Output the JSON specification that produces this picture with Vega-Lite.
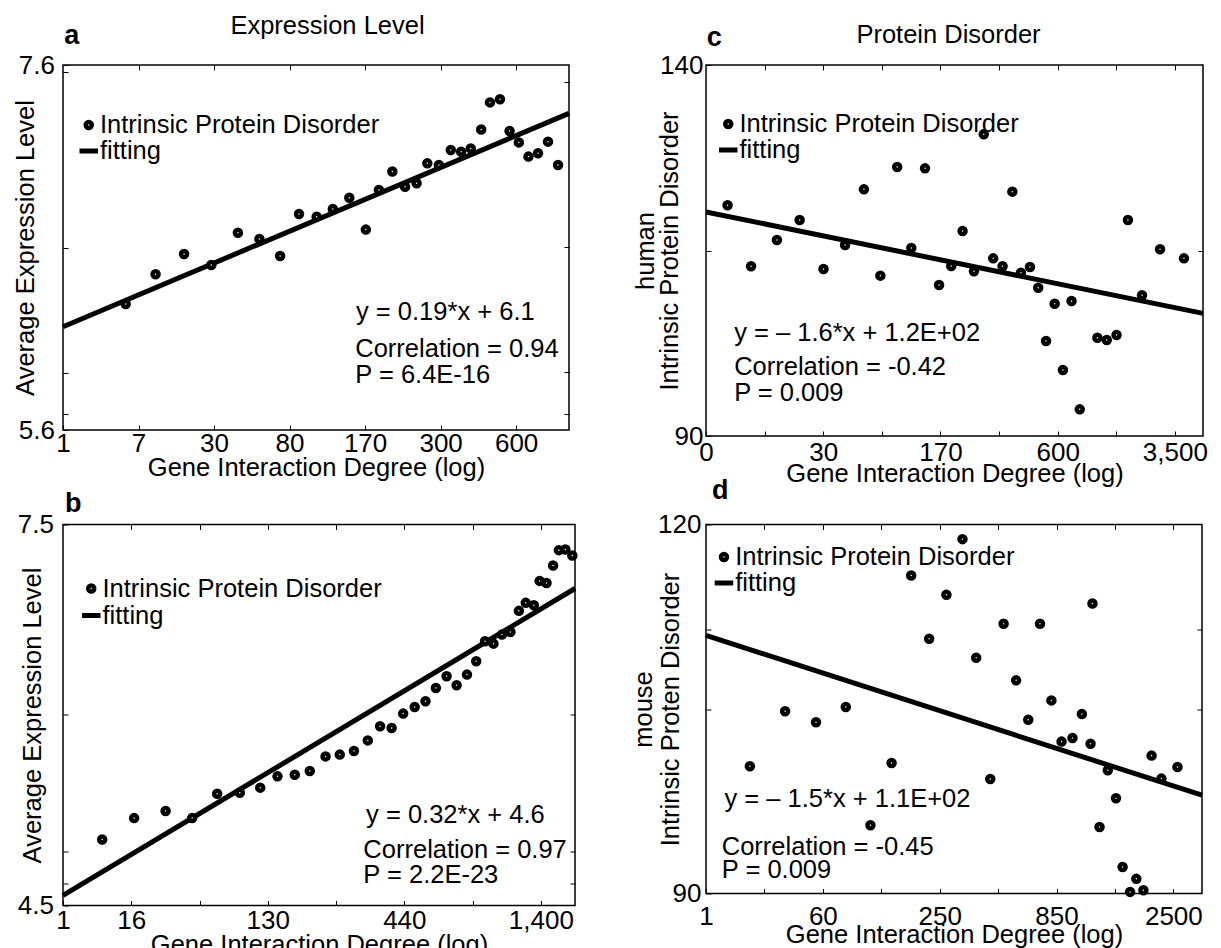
{
"$schema": "https://vega.github.io/schema/vega-lite/v6.json",
"background": "white",
"padding": {"left": 12, "top": 13, "right": 0, "bottom": 0},
"config": {
  "font": "Liberation Sans",
  "view": {"stroke": "black", "strokeWidth": 1.5},
  "axis": {"domain": false, "grid": false, "tickColor": "black", "tickSize": -5, "tickWidth": 1, "labelColor": "black", "titleColor": "black", "labelFontSize": 26, "titleFontSize": 25.5, "titleFontWeight": "normal", "labelFlush": false, "labelOverlap": false, "labelFont": "Liberation Sans", "titleFont": "Liberation Sans"},
  "title": {"color": "black", "font": "Liberation Sans"},
  "text": {"font": "Liberation Sans"},
  "legend": {"title": null, "labelFontSize": 25.5, "labelColor": "black", "labelFont": "Liberation Sans", "labelOffset": -1.5, "padding": 0, "labelLimit": 500, "rowPadding": 0}
},
"columns": 2,
"align": "each",
"bounds": "flush",
"spacing": {"row": 88.5, "column": 131},
"resolve": {"scale": {"shape": "independent", "size": "independent", "strokeWidth": "independent"}, "legend": {"shape": "independent", "size": "independent", "strokeWidth": "independent"}},
"concat": [
 {
  "width": 506, "height": 365,
  "layer": [
   {
    "data": {"values": [{"x": 0, "y": 6.166}, {"x": 6.7, "y": 7.335}]},
    "mark": {"type": "line", "color": "black", "strokeWidth": 5},
    "encoding": {
     "x": {"field": "x", "type": "quantitative", "scale": {"domain": [0, 6.7], "nice": false, "zero": false},
       "axis": {"values": [0, 1, 2, 3, 4, 5, 6], "labelExpr": "['1','7','30','80','170','300','600'][datum.value]", "title": "Gene Interaction Degree (log)", "labelPadding": 5, "minExtent": 24, "maxExtent": 24, "titlePadding": 1.5}},
     "y": {"field": "y", "type": "quantitative", "scale": {"domain": [5.6, 7.6], "nice": false, "zero": false},
       "axis": {"values": [5.6, 5.69, 5.91, 6.6, 7.563, 7.6], "labelExpr": "datum.value == 7.6 ? '7.6' : datum.value == 5.6 ? '5.6' : ''", "title": "Average Expression Level", "labelPadding": 13.5, "minExtent": 20, "maxExtent": 20, "titlePadding": 5}}
    }
   },
   {
    "data": {"values": [
     {"x": 0.83, "y": 6.29}, {"x": 1.226, "y": 6.453}, {"x": 1.603, "y": 6.564}, {"x": 1.964, "y": 6.504}, {"x": 2.316, "y": 6.681},
     {"x": 2.601, "y": 6.647}, {"x": 2.875, "y": 6.553}, {"x": 3.125, "y": 6.784}, {"x": 3.359, "y": 6.769}, {"x": 3.573, "y": 6.811},
     {"x": 3.791, "y": 6.873}, {"x": 4.01, "y": 6.698}, {"x": 4.183, "y": 6.915}, {"x": 4.361, "y": 7.016}, {"x": 4.529, "y": 6.933},
     {"x": 4.682, "y": 6.952}, {"x": 4.824, "y": 7.061}, {"x": 4.977, "y": 7.052}, {"x": 5.135, "y": 7.134}, {"x": 5.272, "y": 7.125},
     {"x": 5.399, "y": 7.143}, {"x": 5.537, "y": 7.247}, {"x": 5.654, "y": 7.395}, {"x": 5.786, "y": 7.412}, {"x": 5.913, "y": 7.238},
     {"x": 6.036, "y": 7.176}, {"x": 6.163, "y": 7.098}, {"x": 6.29, "y": 7.116}, {"x": 6.422, "y": 7.18}, {"x": 6.555, "y": 7.052}
    ]},
    "transform": [{"calculate": "'Intrinsic Protein Disorder'", "as": "series"}],
    "mark": {"type": "point", "filled": true, "fill": "white", "stroke": "black", "opacity": 1},
    "encoding": {
     "x": {"field": "x", "type": "quantitative", "axis": {"orient": "top", "values": [1, 2, 3, 4, 5, 6], "labels": false, "title": "Expression Level", "titleX": 264, "minExtent": 0, "maxExtent": 0, "titlePadding": 26.2}},
     "y": {"field": "y", "type": "quantitative", "axis": {"orient": "right", "values": [5.688, 5.92, 6.601, 7.509], "labels": false, "title": null}},
     "shape": {"field": "series", "type": "nominal", "scale": {"domain": ["Intrinsic Protein Disorder", "fitting"], "range": ["circle", "stroke"]},
       "legend": {"orient": "none", "legendX": 13, "legendY": 47.5, "clipHeight": 25}},
     "size": {"field": "series", "type": "nominal", "scale": {"domain": ["Intrinsic Protein Disorder", "fitting"], "range": [36, 342]},
       "legend": {"orient": "none", "legendX": 13, "legendY": 47.5, "clipHeight": 25}},
     "strokeWidth": {"field": "series", "type": "nominal", "scale": {"domain": ["Intrinsic Protein Disorder", "fitting"], "range": [4.5, 5]},
       "legend": {"orient": "none", "legendX": 13, "legendY": 47.5, "clipHeight": 25}}
    }
   },
   {"data": {"values": [{"label": "a"}]}, "mark": {"type": "text", "align": "left", "baseline": "alphabetic", "fontSize": 27, "fontWeight": "bold", "color": "black"},
    "encoding": {"x": {"datum": 0.016, "type": "quantitative", "axis": null}, "y": {"datum": 7.717, "type": "quantitative", "axis": null}, "text": {"field": "label"}}},
   {"data": {"values": [{"label": "y = 0.19*x + 6.1"}]}, "mark": {"type": "text", "align": "left", "baseline": "middle", "fontSize": 25.5, "color": "black"},
    "encoding": {"x": {"datum": 3.88, "type": "quantitative", "axis": null}, "y": {"datum": 6.248, "type": "quantitative", "axis": null}, "text": {"field": "label"}}},
   {"data": {"values": [{"label": "Correlation = 0.94"}]}, "mark": {"type": "text", "align": "left", "baseline": "middle", "fontSize": 25.5, "color": "black"},
    "encoding": {"x": {"datum": 3.87, "type": "quantitative", "axis": null}, "y": {"datum": 6.045, "type": "quantitative", "axis": null}, "text": {"field": "label"}}},
   {"data": {"values": [{"label": "P = 6.4E-16"}]}, "mark": {"type": "text", "align": "left", "baseline": "middle", "fontSize": 25.5, "color": "black"},
    "encoding": {"x": {"datum": 3.87, "type": "quantitative", "axis": null}, "y": {"datum": 5.903, "type": "quantitative", "axis": null}, "text": {"field": "label"}}}
  ],
  "resolve": {"axis": {"x": "independent", "y": "independent"}}
 },
 {
  "width": 497, "height": 371,
  "layer": [
   {
    "data": {"values": [{"x": 0, "y": 120.19}, {"x": 8.48, "y": 106.53}]},
    "mark": {"type": "line", "color": "black", "strokeWidth": 5},
    "encoding": {
     "x": {"field": "x", "type": "quantitative", "scale": {"domain": [0, 8.48], "nice": false, "zero": false},
       "axis": {"values": [0, 1, 2, 3, 4, 5, 6, 7, 8], "labelExpr": "['0','','30','','170','','600','','3,500'][datum.value]", "title": "Gene Interaction Degree (log)", "labelPadding": 8.5, "minExtent": 24, "maxExtent": 24, "titlePadding": 1.5}},
     "y": {"field": "y", "type": "quantitative", "scale": {"domain": [90, 140], "nice": false, "zero": false},
       "axis": {"values": [90, 115, 140], "labelExpr": "datum.value == 140 ? '140' : datum.value == 90 ? '90' : ''", "title": ["human", "Intrinsic Protein Disorder"], "titleLineHeight": 24, "labelPadding": 8, "minExtent": 16, "maxExtent": 16, "titlePadding": 7.3}}
    }
   },
   {
    "data": {"values": [
     {"x": 0.368, "y": 121.09}, {"x": 0.769, "y": 112.87}, {"x": 1.21, "y": 116.42}, {"x": 1.598, "y": 119.11}, {"x": 2.005, "y": 112.51},
     {"x": 2.373, "y": 115.74}, {"x": 2.694, "y": 123.24}, {"x": 2.975, "y": 111.61}, {"x": 3.262, "y": 126.25}, {"x": 3.503, "y": 115.34},
     {"x": 3.737, "y": 126.07}, {"x": 3.977, "y": 110.35}, {"x": 4.184, "y": 112.91}, {"x": 4.378, "y": 117.63}, {"x": 4.572, "y": 112.19},
     {"x": 4.739, "y": 130.66}, {"x": 4.9, "y": 113.94}, {"x": 5.06, "y": 112.87}, {"x": 5.227, "y": 122.93}, {"x": 5.374, "y": 112.01},
     {"x": 5.528, "y": 112.78}, {"x": 5.668, "y": 109.99}, {"x": 5.802, "y": 102.8}, {"x": 5.949, "y": 107.83}, {"x": 6.09, "y": 98.89},
     {"x": 6.237, "y": 108.19}, {"x": 6.377, "y": 93.59}, {"x": 6.678, "y": 103.25}, {"x": 6.838, "y": 102.94}, {"x": 7.005, "y": 103.61},
     {"x": 7.199, "y": 119.11}, {"x": 7.44, "y": 108.96}, {"x": 7.747, "y": 115.16}, {"x": 8.155, "y": 113.94}
    ]},
    "transform": [{"calculate": "'Intrinsic Protein Disorder'", "as": "series"}],
    "mark": {"type": "point", "filled": true, "fill": "white", "stroke": "black", "opacity": 1},
    "encoding": {
     "x": {"field": "x", "type": "quantitative", "axis": {"orient": "top", "values": [1, 2, 3, 4, 5, 6, 7, 8], "labels": false, "title": "Protein Disorder", "titleX": 242, "minExtent": 0, "maxExtent": 0, "titlePadding": 17.9}},
     "y": {"field": "y", "type": "quantitative", "axis": {"orient": "right", "values": [115], "labels": false, "title": null}},
     "shape": {"field": "series", "type": "nominal", "scale": {"domain": ["Intrinsic Protein Disorder", "fitting"], "range": ["circle", "stroke"]},
       "legend": {"orient": "none", "legendX": 9.5, "legendY": 47, "clipHeight": 24}},
     "size": {"field": "series", "type": "nominal", "scale": {"domain": ["Intrinsic Protein Disorder", "fitting"], "range": [36, 342]},
       "legend": {"orient": "none", "legendX": 9.5, "legendY": 47, "clipHeight": 24}},
     "strokeWidth": {"field": "series", "type": "nominal", "scale": {"domain": ["Intrinsic Protein Disorder", "fitting"], "range": [4.5, 5]},
       "legend": {"orient": "none", "legendX": 9.5, "legendY": 47, "clipHeight": 24}}
    }
   },
   {"data": {"values": [{"label": "c"}]}, "mark": {"type": "text", "align": "left", "baseline": "alphabetic", "fontSize": 27, "fontWeight": "bold", "color": "black"},
    "encoding": {"x": {"datum": 0.014, "type": "quantitative", "axis": null}, "y": {"datum": 142.56, "type": "quantitative", "axis": null}, "text": {"field": "label"}}},
   {"data": {"values": [{"label": "y = – 1.6*x + 1.2E+02"}]}, "mark": {"type": "text", "align": "left", "baseline": "middle", "fontSize": 25.5, "color": "black"},
    "encoding": {"x": {"datum": 0.48, "type": "quantitative", "axis": null}, "y": {"datum": 103.92, "type": "quantitative", "axis": null}, "text": {"field": "label"}}},
   {"data": {"values": [{"label": "Correlation = -0.42"}]}, "mark": {"type": "text", "align": "left", "baseline": "middle", "fontSize": 25.5, "color": "black"},
    "encoding": {"x": {"datum": 0.48, "type": "quantitative", "axis": null}, "y": {"datum": 99.3, "type": "quantitative", "axis": null}, "text": {"field": "label"}}},
   {"data": {"values": [{"label": "P = 0.009"}]}, "mark": {"type": "text", "align": "left", "baseline": "middle", "fontSize": 25.5, "color": "black"},
    "encoding": {"x": {"datum": 0.48, "type": "quantitative", "axis": null}, "y": {"datum": 95.84, "type": "quantitative", "axis": null}, "text": {"field": "label"}}}
  ],
  "resolve": {"axis": {"x": "independent", "y": "independent"}}
 },
 {
  "width": 512, "height": 381,
  "layer": [
   {
    "data": {"values": [{"x": 0, "y": 4.579}, {"x": 7.5, "y": 6.996}]},
    "mark": {"type": "line", "color": "black", "strokeWidth": 5},
    "encoding": {
     "x": {"field": "x", "type": "quantitative", "scale": {"domain": [0, 7.5], "nice": false, "zero": false},
       "axis": {"values": [0, 1, 2, 3, 4, 5, 6, 7], "labelExpr": "['1','16','','130','','440','','1,400'][datum.value]", "title": "Gene Interaction Degree (log)", "labelPadding": 6.8, "minExtent": 24, "maxExtent": 24, "titlePadding": 3}},
     "y": {"field": "y", "type": "quantitative", "scale": {"domain": [4.5, 7.5], "nice": false, "zero": false},
       "axis": {"values": [4.5, 4.671, 4.928, 6.003, 7.5], "labelExpr": "datum.value == 7.5 ? '7.5' : datum.value == 4.5 ? '4.5' : ''", "title": "Average Expression Level", "labelPadding": 14.5, "minExtent": 10, "maxExtent": 10, "titlePadding": 7.8}}
    }
   },
   {
    "data": {"values": [
     {"x": 0.574, "y": 5.02}, {"x": 1.042, "y": 5.188}, {"x": 1.503, "y": 5.244}, {"x": 1.892, "y": 5.188}, {"x": 2.258, "y": 5.38},
     {"x": 2.59, "y": 5.388}, {"x": 2.889, "y": 5.428}, {"x": 3.142, "y": 5.517}, {"x": 3.395, "y": 5.53}, {"x": 3.615, "y": 5.559},
     {"x": 3.846, "y": 5.674}, {"x": 4.054, "y": 5.688}, {"x": 4.262, "y": 5.716}, {"x": 4.465, "y": 5.8}, {"x": 4.645, "y": 5.911},
     {"x": 4.814, "y": 5.898}, {"x": 4.983, "y": 6.011}, {"x": 5.152, "y": 6.063}, {"x": 5.31, "y": 6.108}, {"x": 5.462, "y": 6.213},
     {"x": 5.619, "y": 6.305}, {"x": 5.766, "y": 6.234}, {"x": 5.918, "y": 6.318}, {"x": 6.053, "y": 6.423}, {"x": 6.182, "y": 6.581},
     {"x": 6.306, "y": 6.562}, {"x": 6.43, "y": 6.633}, {"x": 6.554, "y": 6.654}, {"x": 6.678, "y": 6.82}, {"x": 6.779, "y": 6.883},
     {"x": 6.897, "y": 6.864}, {"x": 6.982, "y": 7.056}, {"x": 7.083, "y": 7.04}, {"x": 7.179, "y": 7.177}, {"x": 7.264, "y": 7.298},
     {"x": 7.359, "y": 7.303}, {"x": 7.461, "y": 7.256}
    ]},
    "transform": [{"calculate": "'Intrinsic Protein Disorder'", "as": "series"}],
    "mark": {"type": "point", "filled": true, "fill": "white", "stroke": "black", "opacity": 1},
    "encoding": {
     "x": {"field": "x", "type": "quantitative", "axis": {"orient": "top", "values": [1, 2, 3, 4, 5, 6, 7], "labels": false, "title": null}},
     "y": {"field": "y", "type": "quantitative", "axis": {"orient": "right", "values": [4.671, 4.928, 6.003], "labels": false, "title": null}},
     "shape": {"field": "series", "type": "nominal", "scale": {"domain": ["Intrinsic Protein Disorder", "fitting"], "range": ["circle", "stroke"]},
       "legend": {"orient": "none", "legendX": 15.5, "legendY": 51, "clipHeight": 26}},
     "size": {"field": "series", "type": "nominal", "scale": {"domain": ["Intrinsic Protein Disorder", "fitting"], "range": [36, 342]},
       "legend": {"orient": "none", "legendX": 15.5, "legendY": 51, "clipHeight": 26}},
     "strokeWidth": {"field": "series", "type": "nominal", "scale": {"domain": ["Intrinsic Protein Disorder", "fitting"], "range": [4.5, 5]},
       "legend": {"orient": "none", "legendX": 15.5, "legendY": 51, "clipHeight": 26}}
    }
   },
   {"data": {"values": [{"label": "b"}]}, "mark": {"type": "text", "align": "left", "baseline": "alphabetic", "fontSize": 27, "fontWeight": "bold", "color": "black"},
    "encoding": {"x": {"datum": 0.029, "type": "quantitative", "axis": null}, "y": {"datum": 7.6, "type": "quantitative", "axis": null}, "text": {"field": "label"}}},
   {"data": {"values": [{"label": "y = 0.32*x + 4.6"}]}, "mark": {"type": "text", "align": "left", "baseline": "middle", "fontSize": 25.5, "color": "black"},
    "encoding": {"x": {"datum": 4.44, "type": "quantitative", "axis": null}, "y": {"datum": 5.212, "type": "quantitative", "axis": null}, "text": {"field": "label"}}},
   {"data": {"values": [{"label": "Correlation = 0.97"}]}, "mark": {"type": "text", "align": "left", "baseline": "middle", "fontSize": 25.5, "color": "black"},
    "encoding": {"x": {"datum": 4.4, "type": "quantitative", "axis": null}, "y": {"datum": 4.939, "type": "quantitative", "axis": null}, "text": {"field": "label"}}},
   {"data": {"values": [{"label": "P = 2.2E-23"}]}, "mark": {"type": "text", "align": "left", "baseline": "middle", "fontSize": 25.5, "color": "black"},
    "encoding": {"x": {"datum": 4.4, "type": "quantitative", "axis": null}, "y": {"datum": 4.742, "type": "quantitative", "axis": null}, "text": {"field": "label"}}}
  ],
  "resolve": {"axis": {"x": "independent", "y": "independent"}}
 },
 {
  "width": 496, "height": 369,
  "layer": [
   {
    "data": {"values": [{"x": 0, "y": 110.98}, {"x": 8.49, "y": 97.99}]},
    "mark": {"type": "line", "color": "black", "strokeWidth": 5},
    "encoding": {
     "x": {"field": "x", "type": "quantitative", "scale": {"domain": [0, 8.49], "nice": false, "zero": false},
       "axis": {"values": [0, 1, 2, 3, 4, 5, 6, 7, 8], "labelExpr": "['1','','60','','250','','850','','2500'][datum.value]", "title": "Gene Interaction Degree (log)", "labelPadding": 15, "minExtent": 22, "maxExtent": 22, "titlePadding": 6.5}},
     "y": {"field": "y", "type": "quantitative", "scale": {"domain": [90, 120], "nice": false, "zero": false},
       "axis": {"values": [90, 105, 111.44, 120], "labelExpr": "datum.value == 120 ? '120' : datum.value == 90 ? '90' : ''", "title": ["mouse", "Intrinsic Proten Disorder"], "titleLineHeight": 27, "labelPadding": 10, "minExtent": 14, "maxExtent": 14, "titlePadding": 9}}
    }
   },
   {
    "data": {"values": [
     {"x": 0.751, "y": 100.34}, {"x": 1.354, "y": 104.81}, {"x": 1.883, "y": 103.92}, {"x": 2.393, "y": 105.16}, {"x": 2.815, "y": 95.55},
     {"x": 3.177, "y": 100.61}, {"x": 3.512, "y": 115.86}, {"x": 3.82, "y": 110.71}, {"x": 4.115, "y": 114.29}, {"x": 4.39, "y": 118.81},
     {"x": 4.625, "y": 109.17}, {"x": 4.866, "y": 99.31}, {"x": 5.094, "y": 111.93}, {"x": 5.308, "y": 107.33}, {"x": 5.516, "y": 104.13},
     {"x": 5.717, "y": 111.93}, {"x": 5.912, "y": 105.7}, {"x": 6.086, "y": 102.35}, {"x": 6.273, "y": 102.64}, {"x": 6.434, "y": 104.59},
     {"x": 6.582, "y": 102.18}, {"x": 6.615, "y": 113.58}, {"x": 6.736, "y": 95.41}, {"x": 6.877, "y": 100.02}, {"x": 7.018, "y": 97.74},
     {"x": 7.131, "y": 92.16}, {"x": 7.259, "y": 90.13}, {"x": 7.366, "y": 91.19}, {"x": 7.487, "y": 90.27}, {"x": 7.627, "y": 101.21},
     {"x": 7.795, "y": 99.34}, {"x": 8.07, "y": 100.29}
    ]},
    "transform": [{"calculate": "'Intrinsic Protein Disorder'", "as": "series"}],
    "mark": {"type": "point", "filled": true, "fill": "white", "stroke": "black", "opacity": 1},
    "encoding": {
     "x": {"field": "x", "type": "quantitative", "axis": {"orient": "top", "values": [1, 2, 3, 4, 5, 6, 7, 8], "labels": false, "title": null}},
     "y": {"field": "y", "type": "quantitative", "axis": {"orient": "right", "values": [105, 111.44], "labels": false, "title": null}},
     "shape": {"field": "series", "type": "nominal", "scale": {"domain": ["Intrinsic Protein Disorder", "fitting"], "range": ["circle", "stroke"]},
       "legend": {"orient": "none", "legendX": 5.2, "legendY": 20, "clipHeight": 25}},
     "size": {"field": "series", "type": "nominal", "scale": {"domain": ["Intrinsic Protein Disorder", "fitting"], "range": [36, 342]},
       "legend": {"orient": "none", "legendX": 5.2, "legendY": 20, "clipHeight": 25}},
     "strokeWidth": {"field": "series", "type": "nominal", "scale": {"domain": ["Intrinsic Protein Disorder", "fitting"], "range": [4.5, 5]},
       "legend": {"orient": "none", "legendX": 5.2, "legendY": 20, "clipHeight": 25}}
    }
   },
   {"data": {"values": [{"label": "d"}]}, "mark": {"type": "text", "align": "left", "baseline": "alphabetic", "fontSize": 27, "fontWeight": "bold", "color": "black"},
    "encoding": {"x": {"datum": 0.103, "type": "quantitative", "axis": null}, "y": {"datum": 122.08, "type": "quantitative", "axis": null}, "text": {"field": "label"}}},
   {"data": {"values": [{"label": "y = – 1.5*x + 1.1E+02"}]}, "mark": {"type": "text", "align": "left", "baseline": "middle", "fontSize": 25.5, "color": "black"},
    "encoding": {"x": {"datum": 0.316, "type": "quantitative", "axis": null}, "y": {"datum": 97.71, "type": "quantitative", "axis": null}, "text": {"field": "label"}}},
   {"data": {"values": [{"label": "Correlation = -0.45"}]}, "mark": {"type": "text", "align": "left", "baseline": "middle", "fontSize": 25.5, "color": "black"},
    "encoding": {"x": {"datum": 0.27, "type": "quantitative", "axis": null}, "y": {"datum": 93.79, "type": "quantitative", "axis": null}, "text": {"field": "label"}}},
   {"data": {"values": [{"label": "P = 0.009"}]}, "mark": {"type": "text", "align": "left", "baseline": "middle", "fontSize": 25.5, "color": "black"},
    "encoding": {"x": {"datum": 0.27, "type": "quantitative", "axis": null}, "y": {"datum": 91.94, "type": "quantitative", "axis": null}, "text": {"field": "label"}}}
  ],
  "resolve": {"axis": {"x": "independent", "y": "independent"}}
 }
]
}
